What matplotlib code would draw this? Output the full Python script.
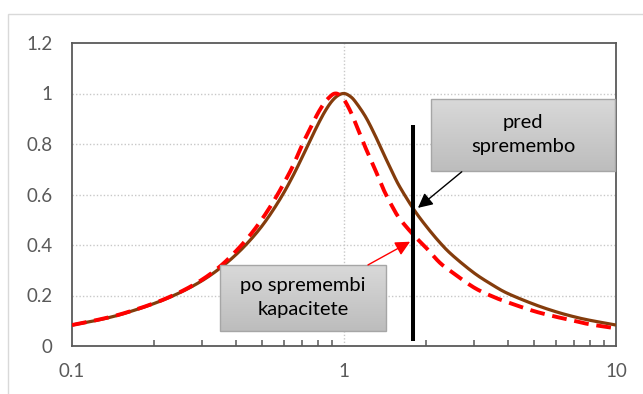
import numpy as np
import matplotlib
matplotlib.use("Agg")
import matplotlib.pyplot as plt
from matplotlib.patches import Rectangle

# Frequency ratio and response curves
x_before = [0.1, 0.12, 0.15, 0.2, 0.25, 0.3, 0.35, 0.4, 0.45, 0.5, 0.55, 0.6,
            0.65, 0.7, 0.75, 0.8, 0.85, 0.9, 0.95, 1.0, 1.05, 1.1, 1.2, 1.3,
            1.4, 1.5, 1.6, 1.8, 2.0, 2.25, 2.5, 3.0, 3.5, 4.0, 5.0, 6.0, 7.0,
            8.0, 10.0]
y_before = [0.083, 0.099, 0.124, 0.168, 0.212, 0.258, 0.308, 0.361, 0.417,
            0.476, 0.540, 0.606, 0.675, 0.745, 0.813, 0.875, 0.928, 0.968,
            0.992, 1.000, 0.990, 0.968, 0.908, 0.835, 0.760, 0.692, 0.632,
            0.543, 0.476, 0.410, 0.360, 0.290, 0.243, 0.208, 0.165, 0.136,
            0.116, 0.102, 0.083]

x_after = [0.1, 0.12, 0.15, 0.2, 0.25, 0.3, 0.35, 0.4, 0.45, 0.5, 0.55, 0.6,
           0.65, 0.7, 0.75, 0.8, 0.85, 0.9, 0.93, 0.96, 1.0, 1.05, 1.1, 1.2,
           1.3, 1.4, 1.5, 1.6, 1.8, 2.0, 2.25, 2.5, 3.0, 3.5, 4.0, 5.0, 6.0,
           7.0, 8.0, 10.0]
y_after = [0.083, 0.100, 0.125, 0.169, 0.214, 0.262, 0.315, 0.375, 0.437,
           0.503, 0.572, 0.643, 0.715, 0.795, 0.860, 0.920, 0.965, 0.993,
           1.000, 0.995, 0.976, 0.935, 0.885, 0.785, 0.700, 0.618, 0.555,
           0.505, 0.440, 0.390, 0.330, 0.292, 0.232, 0.197, 0.173, 0.138,
           0.116, 0.100, 0.086, 0.070]

x_marker = 1.8
marker_span = (0.02, 0.875)

label_before = "pred\nspremembo"
label_after = "po spremembi\nkapacitete"

x_ticks = [0.1, 1, 10]
x_ticklabels = ["0.1", "1", "10"]
y_ticks = [0, 0.2, 0.4, 0.6, 0.8, 1.0, 1.2]
y_ticklabels = ["0", "0.2", "0.4", "0.6", "0.8", "1", "1.2"]


def smooth(xs, ys, n=24):
    """Catmull-Rom curve through the points, in log-x space."""
    lx = np.log10(np.asarray(xs, float))
    y = np.asarray(ys, float)
    P = np.column_stack([lx, y])
    P = np.vstack([2 * P[0] - P[1], P, 2 * P[-1] - P[-2]])
    out = []
    t = np.linspace(0, 1, n, endpoint=False)[:, None]
    for i in range(1, len(P) - 2):
        p0, p1, p2, p3 = P[i - 1], P[i], P[i + 1], P[i + 2]
        seg = 0.5 * ((2 * p1) + (-p0 + p2) * t + (2 * p0 - 5 * p1 + 4 * p2 - p3) * t ** 2
                     + (-p0 + 3 * p1 - 3 * p2 + p3) * t ** 3)
        out.append(seg)
    out.append(P[-2][None, :])
    S = np.vstack(out)
    return 10 ** S[:, 0], S[:, 1]


plt.rcParams['font.family'] = ['Lato', 'DejaVu Sans']

W, H = 643, 394
fig = plt.figure(figsize=(W / 100, H / 100), dpi=100)
fig.patch.set_facecolor("white")

# outer chart frame
fig.patches.append(Rectangle((8 / W, -0.1), 1.2, 1 - 14 / H + 0.1,
                             transform=fig.transFigure, fill=False,
                             edgecolor="#d9d9d9", lw=1.0))

ax = fig.add_axes([72 / W, 1 - 346 / H, 544 / W, 303 / H])
ax.set_xscale("log")
ax.set_xlim(0.1, 10)
ax.set_ylim(0, 1.2)

grid_col = "#c8c8c8"
for yv in y_ticks[1:-1]:
    ax.axhline(yv, color=grid_col, lw=1.0, ls=(0, (1, 1.5)), zorder=0)
ax.axvline(1, color=grid_col, lw=1.0, ls=(0, (1, 1.5)), zorder=0)

xb, yb = smooth(x_before, y_before)
xa, ya = smooth(x_after, y_after)
ax.plot(xb, yb, color="#843c0c", lw=2.3, solid_capstyle="butt", zorder=3)
ax.plot(xa, ya, color="#ff0000", lw=2.8, ls=(0, (3.8, 2.0)), zorder=4)

ax.plot([x_marker, x_marker], marker_span, color="black", lw=2.9,
        solid_capstyle="butt", zorder=5)

for sp in ax.spines.values():
    sp.set_color("#595959")
    sp.set_linewidth(1.3)

ax.set_xticks(x_ticks)
ax.set_xticklabels(x_ticklabels)
ax.set_yticks(y_ticks)
ax.set_yticklabels(y_ticklabels)
ax.tick_params(axis="x", which="major", length=0, pad=12, labelsize=13.5,
               labelcolor="#595959")
ax.tick_params(axis="x", which="minor", direction="in", length=4, width=1.1,
               color="#595959", labelbottom=False)
ax.tick_params(axis="y", which="major", length=0, pad=14, labelsize=13.5,
               labelcolor="#595959")


def gradient_box(x0, y0, x1, y1, text):
    grad = np.linspace(0, 1, 64)[:, None]
    top = np.array([0.85, 0.85, 0.85])
    bot = np.array([0.74, 0.74, 0.74])
    img = top[None, None, :] * (1 - grad[:, :, None]) + bot[None, None, :] * grad[:, :, None]
    ax.imshow(img, extent=(x0, x1, y0, y1), transform=ax.transAxes,
              aspect="auto", origin="upper", zorder=6, clip_on=False,
              interpolation="bilinear")
    ax.add_patch(Rectangle((x0, y0), x1 - x0, y1 - y0, transform=ax.transAxes,
                           fill=False, edgecolor="#a6a6a6", lw=1.0, zorder=7,
                           clip_on=False))
    ax.text((x0 + x1) / 2, (y0 + y1) / 2, text, transform=ax.transAxes,
            ha="center", va="center", fontsize=14.5, color="black",
            linespacing=1.5, zorder=8)


gradient_box(0.660, 0.578, 0.998, 0.815, label_before)
gradient_box(0.272, 0.050, 0.577, 0.267, label_after)

ax.annotate("", xy=(1.87, 0.547), xytext=(2.71, 0.690),
            arrowprops=dict(arrowstyle="-|>", color="black", lw=1.0,
                            mutation_scale=22, shrinkA=0, shrinkB=0),
            zorder=9)
ax.annotate("", xy=(1.75, 0.413), xytext=(1.225, 0.321),
            arrowprops=dict(arrowstyle="-|>", color="#ff0000", lw=1.0,
                            mutation_scale=22, shrinkA=0, shrinkB=0),
            zorder=9)

fig.savefig("out.png", dpi=100)
